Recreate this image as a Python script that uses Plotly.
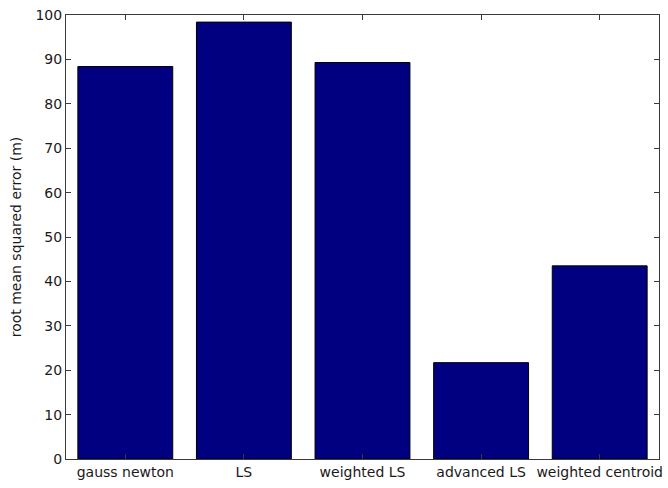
import plotly.graph_objects as go

# Localisation error per method
methods = ["gauss newton", "LS", "weighted LS", "advanced LS", "weighted centroid"]
rmse = [88.4, 98.4, 89.3, 21.7, 43.5]
positions = [1, 2, 3, 4, 5]
y_ticks = [0, 10, 20, 30, 40, 50, 60, 70, 80, 90, 100]

axis_color = "#3a3a3a"
font_family = "DejaVu Sans, Liberation Sans, Arial, sans-serif"

fig = go.Figure(
    go.Bar(
        x=positions,
        y=rmse,
        width=0.8,
        marker=dict(color="#000080", line=dict(color="#000000", width=1)),
        hoverinfo="x+y",
    )
)

fig.update_layout(
    width=668,
    height=488,
    margin=dict(l=66, r=5, t=15, b=29),
    paper_bgcolor="white",
    plot_bgcolor="white",
    showlegend=False,
    font=dict(family=font_family, size=14, color="#1a1a1a"),
)

fig.update_xaxes(
    range=[0.5, 5.5],
    tickvals=positions,
    ticktext=methods,
    ticks="inside",
    ticklen=5,
    tickcolor=axis_color,
    showline=True,
    linecolor=axis_color,
    linewidth=1,
    mirror="ticks",
    showgrid=False,
    zeroline=False,
    tickfont=dict(size=14),
)

fig.update_yaxes(
    range=[0, 100],
    tickvals=y_ticks,
    ticks="inside",
    ticklen=5,
    tickcolor=axis_color,
    showline=True,
    linecolor=axis_color,
    linewidth=1,
    mirror="ticks",
    showgrid=False,
    zeroline=False,
    tickfont=dict(size=14),
    title=dict(text="root mean squared error (m)", font=dict(size=14), standoff=10),
)

fig.write_html("out.html")
